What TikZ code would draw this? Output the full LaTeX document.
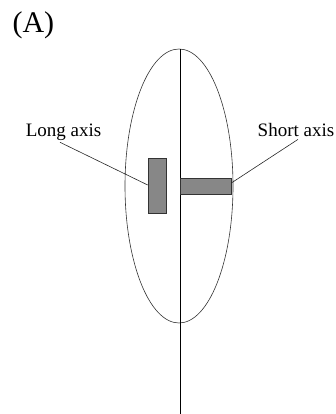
\documentclass[tikz,border=0pt]{standalone}
\usepackage{fontspec}
\setmainfont{Liberation Serif}
\usetikzlibrary{positioning}
\tikzset{
  bar/.style = {
    draw=black!80,
    line width=0.6pt,
    fill=black!47,
    inner sep=0pt
  },
  axislabel/.style = {
    font=\fontsize{19}{21}\selectfont,
    anchor=base,
    inner sep=1pt
  },
  leader/.style = {
    line width=0.6pt,
    black!85
  }
}
\begin{document}
\begin{tikzpicture}[x=1pt,y=-1pt]
\useasboundingbox (0,0) rectangle (335,414);

% Titel
\node[font=\fontsize{30}{32}\selectfont, anchor=west] (title) at (9,25) {(A)};

% Ellipse und Achse
\draw[line width=0.6pt, black!80] (179,186) ellipse [x radius=54, y radius=137];
\coordinate (axis_top) at (180,49);
\coordinate (axis_bottom) at (180,414);
\draw[line width=0.7pt] (axis_top) -- (axis_bottom);

% Balken
\node[bar, minimum width=18pt, minimum height=55pt] (long_bar) at (157,185.5) {};
\node[bar, minimum width=51pt, minimum height=16pt] (short_bar) at (205.5,186) {};

% Beschriftungen
\node[axislabel] (long_label) at (63.5,137) {Long axis};
\node[axislabel] (short_label) at (296,136) {Short axis};

% Hinweislinien
\draw[leader] ([xshift=-3.5pt]long_label.south) -- (long_bar.west |- 0,185);
\draw[leader] ([xshift=2pt,yshift=-2pt]short_label.south) -- (short_bar.east |- 0,183);

\end{tikzpicture}
\end{document}
